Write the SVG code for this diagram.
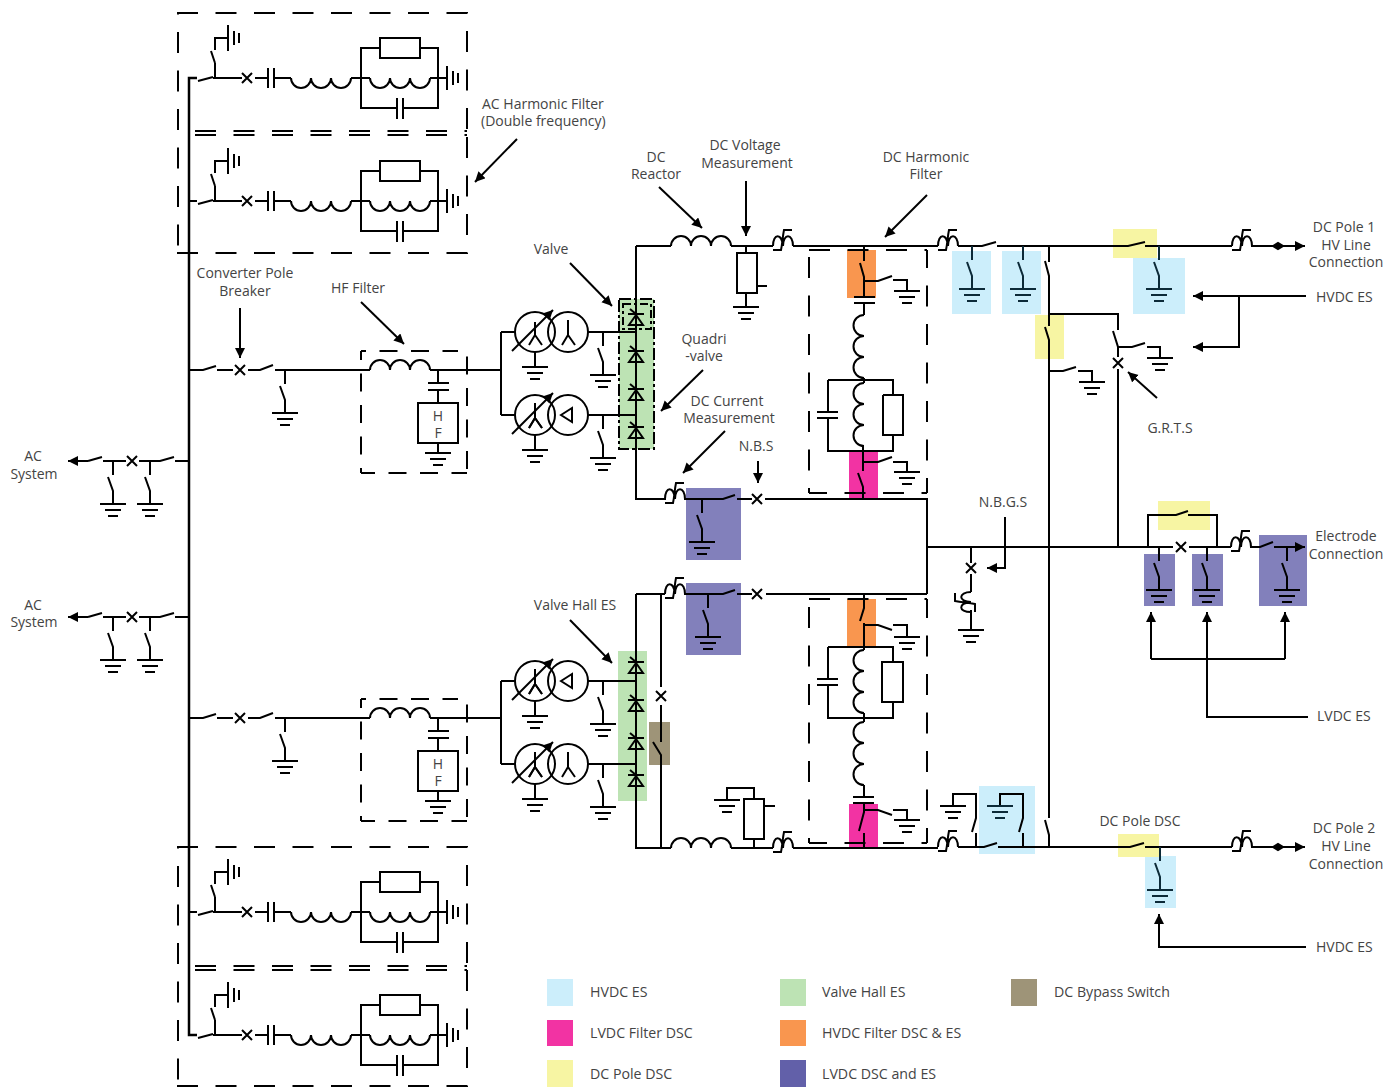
<svg xmlns="http://www.w3.org/2000/svg" width="1397" height="1087" viewBox="0 0 1397 1087">
<style>
.w,.w *{fill:none;stroke:#000;stroke-width:2}
.d{fill:none;stroke:#000;stroke-width:2;stroke-dasharray:21 17.5}
.d2{fill:none;stroke:#000;stroke-width:2;stroke-dasharray:18 13.5}
.th{stroke-width:2.5}
.t{font-family:"Open Sans","Noto Sans",sans-serif;font-size:14px;fill:#444}
.lg{font-size:14.2px}
.tm{text-anchor:middle}
.teal,.teal *{stroke:#0c2a38}
.cy{fill:#cceefb}.pk{fill:#f233a3}.or{fill:#f9964f}.ye{fill:#f7f5a3}.pu{fill:#8280bb}.gr{fill:#bde3b4}.ta{fill:#9e9478}
</style>
<defs>
<marker id="ah" markerUnits="userSpaceOnUse" markerWidth="12" markerHeight="12" refX="10" refY="5" orient="auto"><path d="M0 0L10 5L0 10z" fill="#000"/></marker>
<path id="gnd" d="M-13 0H13M-8 6H8M-5 12H5"/>
<path id="esw" d="M0 0V14M-5 16L0 30V43M-13 43H13M-8 49H8M-5 55H5"/>
<path id="xb" d="M-5 -5L5 5M-5 5L5 -5"/>
<path id="indU" d="M0 0a10 10 0 0 1 20 0a10 10 0 0 1 20 0a10 10 0 0 1 20 0"/>
<path id="indD" d="M0 0a10 10 0 0 0 20 0a10 10 0 0 0 20 0a10 10 0 0 0 20 0"/>
<path id="indV" d="M0 0a10.5 10.5 0 0 0 0 21a10.5 10.5 0 0 0 0 21a10.5 10.5 0 0 0 0 21"/>
<path id="thy" d="M-8 -1H8M-6 -6L0 -1M0 0L-7 10H7z"/>
<path id="ct" d="M0 0C0 -13 9 -13 10 0C10 -13 20 -13 20 0M19 -16H11C9.5 -9 9.5 -3 8 4H0"/>
<g id="filt">
<path d="M189 78H197M198 81L213 77M213 78H242M215 78V63M211 51L215 63M215 50V38H228M228 25V51M234 31V45M239 33V43"/>
<use href="#xb" x="247" y="78"/>
<path d="M255 78H268M268 68V88M274 68V88M274 78H291"/>
<use href="#indD" x="291" y="78"/>
<path d="M351 78H370"/>
<use href="#indD" x="370" y="78"/>
<path d="M430 78H447M447 66V90M453 71V85M458 73V83"/>
<path d="M380 48H361V108H397M397 98V119M403 98V119M403 108H438V48H420"/>
<rect x="380" y="38" width="40" height="20"/>
</g>
<g id="hf">
<path d="M189 370H203L216 366M217 370H233M248 370H260L273 365M275 370H370M430 370H501M438 370V383M428 383H449M428 390H449M438 390V403M438 443V453"/>
<use href="#xb" x="240" y="370"/>
<use href="#indU" x="370" y="370"/>
<use href="#esw" x="285" y="370"/>
<rect x="418" y="403" width="40" height="40"/>
<use href="#gnd" x="438" y="453"/>
<path class="d2" stroke-dashoffset="13" d="M361 351H458"/>
<path class="d2" stroke-dashoffset="4" d="M361 473H467"/>
<path class="d2" stroke-dashoffset="9" d="M361 351V473"/>
<path class="d2" stroke-dashoffset="26" d="M467 351V473"/>
</g>
<g id="xfmr">
<circle cx="535" cy="332" r="20"/><circle cx="568" cy="332" r="20"/>
<path d="M515 332H501M535 352V367M588 332H636M535 322V335L529 345M535 335L542 345"/>
<path d="M512 351L553 310" marker-end="url(#ah)"/>
<use href="#gnd" x="535" y="367"/>
<use href="#esw" x="603" y="332"/>
</g>
<path id="wye" d="M568 320V335L562 345M568 335L575 345"/>
<path id="dlt" d="M561 332L572 325V339z"/>
</defs>

<g id="highlights">
<rect class="gr" x="619" y="299" width="35" height="150"/>
<rect class="gr" x="618" y="651" width="29" height="150"/>
<rect class="ta" x="649" y="722" width="21" height="43"/>
<rect class="pu" x="686" y="488" width="55" height="72"/>
<rect class="pu" x="686" y="583" width="55" height="72"/>
<rect class="or" x="847" y="250" width="29" height="48"/>
<rect class="pk" x="849" y="451" width="29" height="48"/>
<rect class="or" x="847" y="599" width="29" height="48"/>
<rect class="pk" x="849" y="804" width="29" height="43"/>
<rect class="cy" x="952" y="251" width="39" height="63"/>
<rect class="cy" x="1002" y="251" width="39" height="63"/>
<rect class="ye" x="1035" y="315" width="29" height="44"/>
<rect class="cy" x="1133" y="258" width="52" height="56"/>
<rect class="ye" x="1113" y="229" width="44" height="29"/>
<rect class="ye" x="1158" y="501" width="52" height="29"/>
<rect class="pu" x="1144" y="554" width="31" height="52"/>
<rect class="pu" x="1192" y="554" width="31" height="52"/>
<rect class="pu" x="1259" y="535" width="48" height="71"/>
<rect class="cy" x="979" y="786" width="56" height="68"/>
<rect class="cy" x="1145" y="856" width="31" height="52"/>
<rect class="ye" x="1118" y="834" width="41" height="23"/>
</g>

<g id="connectors" class="w">
<path class="th" d="M197 78H189V1035H197"/>
<path d="M189 201H197M189 912H197M189 461H175M189 617H175M636 246V499H666M636 594V848H671M636 246H671M731 246H773M793 246H938M958 246H982L996 242M997 246H1128L1145 242M1145 246H1232M636 594H665M684 499H723L735 495M737 499H752M765 499H927V594M684 594H723L735 590M737 594H752M766 594H927M927 547H1173M1189 547H1231M1250 547H1260L1273 542"/>
<path d="M1274 547H1305" marker-end="url(#ah)"/>
<path d="M1251 246H1305" marker-end="url(#ah)"/>
<path d="M1251 847H1305" marker-end="url(#ah)"/>
<path d="M1148 547V515H1176L1188 511M1188 515H1217V547"/>
<path d="M661 594V687M661 705V742M653 742L661 755V848"/>
<path d="M731 848H773M793 848H938M958 847H984L997 843M998 847H1130L1144 843M1145 847H1232"/>
<path d="M1049 246V262M1045 261L1049 276V326M1045 327L1049 340V818M1045 820L1049 835V847M1049 314H1118V330M1113 331L1118 347V357M1118 369V547"/>
<path d="M1118 347H1132L1145 343M1147 347H1160V358M1049 371H1063L1076 367M1078 371H1092V382"/>
<path d="M864 246V261M860 263L864 277V297M864 281H878L892 276M893 280H907V291"/>
<path d="M854 297H875M854 303H875M864 303V315M864 378V383M828 380V412M817 412H838M817 418H838M828 380H893V395M883 395H903V435H883V395M893 435V451H828V418"/>
<path d="M863 445V471M858 473L863 487V499M863 462H878L892 457M893 462H907V472"/>
<path d="M864 594V608L860 621M864 623V650M864 625H878L892 630M893 625H907V637"/>
<path d="M828 647H893V662M893 702V718H828V685M828 679V647M817 679H838M817 685H838M864 713V722M864 785V797M853 797H874M853 803H874"/>
<rect x="882" y="662" width="21" height="40"/>
<path d="M864 803V812L859 831M864 833V847M864 810H878L892 815M893 810H907V820"/>
<path d="M746 246V253M746 293V307M757 286H767"/>
<rect x="737" y="253" width="20" height="40"/>
<path d="M754 848V839M754 799V788H727V800M764 806H775"/>
<rect x="744" y="799" width="20" height="40"/>
<path d="M976 847V833M972 832L976 818V794H953V806M1023 847V833M1019 832L1023 818V794H1000V806"/>
<path d="M1101 847h.5"/>
<path d="M971 547V563M971 574V592M971 610V630"/>
<path d="M1306 296H1193" marker-end="url(#ah)"/>
<path d="M1239 296V347H1193" marker-end="url(#ah)"/>
<path d="M1157 398L1128 372" marker-end="url(#ah)"/>
<path d="M1005 517V568H987" marker-end="url(#ah)"/>
<path d="M1151 659V612" marker-end="url(#ah)"/>
<path d="M1285 659V612" marker-end="url(#ah)"/>
<path d="M1151 659H1285"/>
<path d="M1308 717H1207V612" marker-end="url(#ah)"/>
<path d="M1306 947H1159V914" marker-end="url(#ah)"/>
<path d="M240 308V358" marker-end="url(#ah)"/>
<path d="M361 302L404 344" marker-end="url(#ah)"/>
<path d="M570 263L612 306" marker-end="url(#ah)"/>
<path d="M703 370L661 411" marker-end="url(#ah)"/>
<path d="M725 431L683 473" marker-end="url(#ah)"/>
<path d="M758 461V483" marker-end="url(#ah)"/>
<path d="M659 187L702 228" marker-end="url(#ah)"/>
<path d="M746 181V236" marker-end="url(#ah)"/>
<path d="M927 195L885 237" marker-end="url(#ah)"/>
<path d="M517 139L475 182" marker-end="url(#ah)"/>
<path d="M570 620L612 663" marker-end="url(#ah)"/>
<path d="M88 461H68" marker-end="url(#ah)"/>
<path d="M88 617H68" marker-end="url(#ah)"/>
<path d="M88 461L102 457M103 461H126M139 461H160L174 457M88 617L102 613M103 617H126M139 617H160L174 613"/>
</g>

<g id="ac-harmonic-filter-top" class="w">
<use href="#filt"/><use href="#filt" transform="translate(0 123)"/>
<path class="d" d="M177 13H467V131"/><path class="d" d="M177 253H467V135"/>
<path class="d" stroke-dashoffset="-19" d="M178 13V253"/>
<path class="d" d="M195 131H467M195 135H467"/>
</g>
<g id="ac-harmonic-filter-bottom" class="w">
<use href="#filt" transform="translate(0 834)"/><use href="#filt" transform="translate(0 957)"/>
<path class="d" d="M177 847H467V965"/><path class="d" d="M177 1086H467V969"/>
<path class="d" stroke-dashoffset="-19" d="M178 847V1087"/>
<path class="d" d="M195 966H467M195 970H467"/>
</g>
<g id="hf-filter-1" class="w"><use href="#hf"/></g>
<g id="hf-filter-2" class="w"><use href="#hf" transform="translate(0 348)"/></g>
<g id="transformers-top" class="w">
<path d="M501 332V415"/>
<use href="#xfmr"/><use href="#wye"/>
<use href="#xfmr" transform="translate(0 83)"/><use href="#dlt" transform="translate(0 83)"/>
<use href="#wye" transform="translate(-33 83)"/>
</g>
<g id="transformers-bottom" class="w">
<path d="M501 681V764"/>
<use href="#xfmr" transform="translate(0 349)"/><use href="#dlt" transform="translate(0 349)"/>
<use href="#wye" transform="translate(-33 349)"/>
<use href="#xfmr" transform="translate(0 432)"/><use href="#wye" transform="translate(0 432)"/>
<use href="#wye" transform="translate(-33 432)"/>
</g>
<g id="valve-top" class="w">
<use href="#thy" x="636" y="315"/><use href="#thy" x="636" y="352"/><use href="#thy" x="636" y="390"/><use href="#thy" x="636" y="428"/>
<rect x="619" y="299" width="35" height="150" stroke-dasharray="12 3 3 3"/>
<rect x="623" y="304" width="28" height="25" stroke-dasharray="8 3 3 3"/>
</g>
<g id="valve-bottom" class="w">
<use href="#thy" x="636" y="663"/><use href="#thy" x="636" y="701"/><use href="#thy" x="636" y="739"/><use href="#thy" x="636" y="776"/>
</g>
<g id="reactors" class="w"><use href="#indU" x="671" y="246"/><use href="#indU" x="671" y="848"/></g>
<g id="current-transformers" class="w">
<use href="#ct" x="665" y="499"/><use href="#ct" x="665" y="594"/><use href="#ct" x="773" y="246"/><use href="#ct" x="938" y="246"/><use href="#ct" x="1232" y="246"/><use href="#ct" x="1231" y="547"/><use href="#ct" x="773" y="848"/><use href="#ct" x="938" y="847"/><use href="#ct" x="1232" y="847"/>
<use href="#ct" transform="matrix(0 -1 1 0 971 612)"/>
</g>
<g id="breakers" class="w">
<use href="#xb" x="757" y="499"/><use href="#xb" x="757" y="594"/><use href="#xb" x="661" y="696"/><use href="#xb" x="1118" y="363"/><use href="#xb" x="1181" y="547"/><use href="#xb" x="971" y="568"/><use href="#xb" x="132" y="461"/><use href="#xb" x="132" y="617"/>
</g>
<g id="filter-inductors" class="w">
<use href="#indV" x="864" y="315"/><use href="#indV" x="864" y="383"/><use href="#indV" x="864" y="650"/><use href="#indV" x="864" y="722"/>
</g>
<g id="earth-switches" class="w">
<use href="#esw" x="113" y="461"/><use href="#esw" x="150" y="461"/><use href="#esw" x="113" y="617"/><use href="#esw" x="150" y="617"/>
<use href="#esw" x="702" y="499"/><use href="#esw" x="708" y="594"/>
<use href="#esw" x="1159" y="547"/><use href="#esw" x="1207" y="547"/><use href="#esw" x="1287" y="547"/>
<use class="teal" href="#esw" x="972" y="246"/><use class="teal" href="#esw" x="1023" y="246"/><use class="teal" href="#esw" x="1159" y="246"/><use class="teal" href="#esw" x="1160" y="847"/>
</g>
<g id="grounds" class="w">
<use href="#gnd" x="746" y="307"/><use href="#gnd" x="907" y="291"/><use href="#gnd" x="907" y="472"/><use href="#gnd" x="907" y="637"/><use href="#gnd" x="907" y="820"/><use href="#gnd" x="727" y="800"/><use href="#gnd" x="1160" y="358"/><use href="#gnd" x="1092" y="382"/><use href="#gnd" x="971" y="630"/><use href="#gnd" x="953" y="806"/><use class="teal" href="#gnd" x="1000" y="806"/>
</g>
<g id="filter-boxes" class="w">
<path class="d" d="M809 250H927"/>
<path class="d" stroke-dashoffset="3" d="M809 493H927"/>
<path class="d" stroke-dashoffset="31.5" d="M809 250V493"/>
<path class="d" stroke-dashoffset="3" d="M927 250V493"/>
<path class="d" d="M809 599H927"/>
<path class="d" stroke-dashoffset="3" d="M809 843H927"/>
<path class="d" stroke-dashoffset="30.5" d="M809 599V843"/>
<path class="d" stroke-dashoffset="2" d="M927 599V843"/>
</g>
<g id="pole-dots" class="w">
<path d="M1273 246L1278 243L1283 246L1278 249z" style="fill:#000"/>
<path d="M1273 847L1278 844L1283 847L1278 850z" style="fill:#000"/>
</g>

<g id="labels" class="t">
<text x="482" y="109">AC Harmonic Filter</text><text x="481" y="126">(Double frequency)</text>
<g class="tm">
<text x="656" y="162">DC</text><text x="656" y="179">Reactor</text>
<text x="745" y="150">DC Voltage</text><text x="747" y="168">Measurement</text>
<text x="926" y="162">DC Harmonic</text><text x="926" y="179">Filter</text>
<text x="1344" y="232">DC Pole 1</text><text x="1346" y="250">HV Line</text><text x="1346" y="267">Connection</text>
<text x="245" y="278">Converter Pole</text><text x="245" y="296">Breaker</text>
<text x="358" y="293">HF Filter</text>
<text x="551" y="254">Valve</text>
<text x="704" y="344">Quadri</text><text x="704" y="361">-valve</text>
<text x="727" y="406">DC Current</text><text x="729" y="423">Measurement</text>
<text x="756" y="451">N.B.S</text><text x="1170" y="433">G.R.T.S</text><text x="1003" y="507">N.B.G.S</text>
<text x="1346" y="541">Electrode</text><text x="1346" y="559">Connection</text>
<text x="33" y="461">AC</text><text x="34" y="479">System</text>
<text x="33" y="610">AC</text><text x="34" y="627">System</text>
<text x="575" y="610">Valve Hall ES</text>
<text x="1140" y="826">DC Pole DSC</text>
<text x="1344" y="833">DC Pole 2</text><text x="1346" y="851">HV Line</text><text x="1346" y="869">Connection</text>
<text x="438" y="421">H</text><text x="438" y="438">F</text>
<text x="438" y="769">H</text><text x="438" y="786">F</text>
</g>
<text x="1316" y="302">HVDC ES</text><text x="1317" y="721">LVDC ES</text><text x="1316" y="952">HVDC ES</text>
</g>
<g id="legend" class="t lg">
<rect class="cy" x="547" y="979" width="26" height="27"/><text x="590" y="997">HVDC ES</text>
<rect class="pk" x="547" y="1020" width="26" height="26"/><text x="590" y="1038">LVDC Filter DSC</text>
<rect class="ye" x="547" y="1060" width="26" height="27"/><text x="590" y="1079">DC Pole DSC</text>
<rect class="gr" x="780" y="979" width="26" height="27"/><text x="822" y="997">Valve Hall ES</text>
<rect class="or" x="780" y="1020" width="26" height="26"/><text x="822" y="1038">HVDC Filter DSC &amp; ES</text>
<rect fill="#6260a9" x="780" y="1060" width="26" height="27"/><text x="822" y="1079">LVDC DSC and ES</text>
<rect class="ta" x="1011" y="979" width="26" height="27"/><text x="1054" y="997">DC Bypass Switch</text>
</g>
</svg>
